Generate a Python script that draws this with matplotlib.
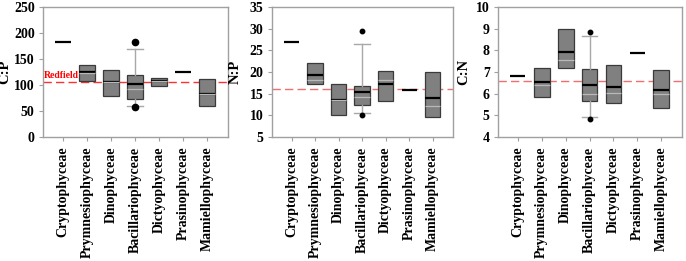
import matplotlib
matplotlib.use("Agg")
import matplotlib.pyplot as plt

plt.rcParams['font.family'] = ['Liberation Serif', 'DejaVu Serif']
plt.rcParams['font.weight'] = 'bold'

categories = ["Cryptophyceae", "Prymnesiophyceae", "Dinophyceae", "Bacillariophyceae",
              "Dictyophyceae", "Prasinophyceae", "Mamiellophyceae"]

# C:P
cp_q1 = [182, 108, 79, 72.5, 98, 125, 60]
cp_med = [182, 124.5, 106, 101, 107, 125, 83]
cp_q3 = [182, 138, 129, 119, 113, 125, 112]
cp_mean = [182, 124, 106, 92, 107, 125, 83]
cp_whislo = [None, None, None, 60, None, None, None]
cp_whishi = [None, None, None, 169, None, None, None]
cp_fliers = [[], [], [], [182, 57], [], [], []]

# N:P
np_q1 = [27, 17.2, 10.1, 12.3, 13.4, 15.9, 9.7]
np_med = [27, 19.2, 13.5, 15.5, 17.2, 15.9, 14.1]
np_q3 = [27, 22, 17.2, 16.8, 20.2, 15.9, 20.1]
np_mean = [27, 18.2, 13.5, 14.3, 18.2, 15.9, 12.2]
np_whislo = [None, None, None, 10.6, None, None, None]
np_whishi = [None, None, None, 26.5, None, None, None]
np_fliers = [[], [], [], [29.5, 10.1], [], [], []]

# C:N
cn_q1 = [6.8, 5.85, 7.17, 5.65, 5.59, 7.86, 5.36]
cn_med = [6.8, 6.52, 7.92, 6.42, 6.32, 7.86, 6.16]
cn_q3 = [6.8, 7.17, 9.0, 7.12, 7.32, 7.86, 7.09]
cn_mean = [6.8, 6.4, 7.55, 6.0, 6.04, 7.86, 6.0]
cn_whislo = [None, None, None, 4.93, None, None, None]
cn_whishi = [None, None, None, 8.68, None, None, None]
cn_fliers = [[], [], [], [8.86, 4.83], [], [], []]

redfield = [106, 16, 6.6]
ylabels = ["C:P", "N:P", "C:N"]
ylims = [(0, 250), (5, 35), (4, 10)]
yticks = [list(range(0, 251, 50)), list(range(5, 36, 5)), list(range(4, 11, 1))]
red_colors = ['#ff3030', '#ee7070', '#ee7070']
flier_sizes = [4.5, 3.2, 3.2]
label_x = [-0.17, -0.17, -0.152]

panels = [
    (cp_q1, cp_med, cp_q3, cp_mean, cp_whislo, cp_whishi, cp_fliers),
    (np_q1, np_med, np_q3, np_mean, np_whislo, np_whishi, np_fliers),
    (cn_q1, cn_med, cn_q3, cn_mean, cn_whislo, cn_whishi, cn_fliers),
]

fig = plt.figure(figsize=(6.86, 2.61), dpi=100)
positions_px = [(43, 228), (272, 453), (498, 682)]
W, H = 686, 261
bottom_px, top_px = 137, 7

spine_col = '#a0a0a0'
for k, (q1, med, q3, mean, wlo, whi, fl) in enumerate(panels):
    l, r = positions_px[k]
    ax = fig.add_axes([l / W, 1 - bottom_px / H, (r - l) / W, (bottom_px - top_px) / H])
    pos = list(range(1, len(categories) + 1))
    stats_w, pos_w, stats_n, pos_n = [], [], [], []
    for i in range(len(categories)):
        if q1[i] == q3[i]:
            ax.hlines(med[i], pos[i] - 0.32, pos[i] + 0.32, colors='black', lw=1.6, zorder=3)
            continue
        s = dict(med=med[i], q1=q1[i], q3=q3[i], mean=mean[i],
                 whislo=wlo[i] if wlo[i] is not None else q1[i],
                 whishi=whi[i] if whi[i] is not None else q3[i],
                 fliers=fl[i])
        if wlo[i] is not None:
            stats_w.append(s); pos_w.append(pos[i])
        else:
            stats_n.append(s); pos_n.append(pos[i])
    common = dict(widths=0.66, patch_artist=True, showmeans=True, meanline=True,
                  boxprops=dict(facecolor='#808080', edgecolor='#3a3a3a', lw=0.9),
                  medianprops=dict(color='black', lw=1.6),
                  meanprops=dict(color='#b8b8b8', lw=0.9, linestyle='-'),
                  whiskerprops=dict(color='#a8a8a8', lw=1.0),
                  capprops=dict(color='#a8a8a8', lw=1.0),
                  flierprops=dict(marker='o', markerfacecolor='black', markeredgecolor='black',
                                  markersize=flier_sizes[k]))
    if stats_w:
        ax.bxp(stats_w, positions=pos_w, showcaps=True, showfliers=True, capwidths=0.66, **common)
    if stats_n:
        ax.bxp(stats_n, positions=pos_n, showcaps=False, showfliers=False, **common)
    ax.axhline(redfield[k], color=red_colors[k], ls=(0, (6, 3)), lw=1.0, zorder=1)
    if k == 0:
        ax.text(0.22, redfield[k] + 3, "Redfield", color='#ff0000', fontsize=7,
                fontweight='bold', ha='left', va='bottom')
    ax.set_xlim(0.17, 7.87)
    ax.set_ylim(*ylims[k])
    ax.set_yticks(yticks[k])
    ax.set_xticks(pos)
    ax.set_xticklabels(categories, rotation=90, fontsize=10, fontweight='bold')
    ax.tick_params(axis='y', labelsize=10, direction='out', length=3, color=spine_col, pad=3)
    ax.tick_params(axis='x', direction='out', length=3, color=spine_col, pad=4)
    for t in ax.get_yticklabels():
        t.set_fontweight('bold')
    for sp in ax.spines.values():
        sp.set_color(spine_col)
        sp.set_linewidth(1.0)
    ax.set_ylabel(ylabels[k], fontsize=10.5, fontweight='bold')
    ax.yaxis.set_label_coords(label_x[k], 0.5)

fig.savefig("out.png", dpi=100)
